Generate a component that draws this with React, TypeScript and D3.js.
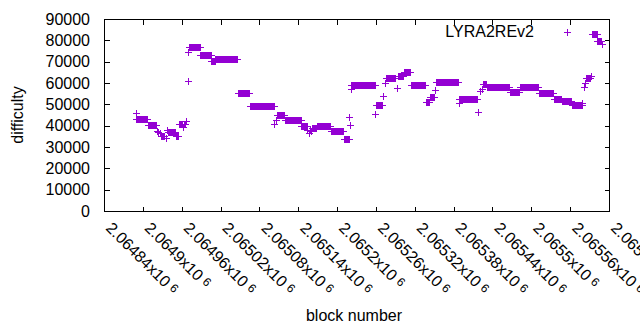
import * as d3 from "d3";

// runs of equal difficulty (first block, last block, value)
const firstBlock = [
  2064889, 2064890, 2064908, 2064922, 2064924, 2064926, 2064928, 2064935, 2064937, 2064939,
  2064951, 2064956, 2064962, 2064963, 2064966, 2064969, 2064970, 2064971, 2064989, 2065006,
  2065012, 2065047, 2065065, 2065103, 2065106, 2065107, 2065119, 2065145, 2065154, 2065156,
  2065158, 2065160, 2065161, 2065169, 2065190, 2065210, 2065219, 2065220, 2065221, 2065222,
  2065259, 2065260, 2065271, 2065274, 2065276, 2065292, 2065294, 2065303, 2065314, 2065337,
  2065343, 2065351, 2065353, 2065388, 2065389, 2065418, 2065421, 2065424, 2065426, 2065431,
  2065467, 2065482, 2065512, 2065535, 2065547, 2065563, 2065579, 2065581, 2065583, 2065584,
  2065592, 2065593, 2065602, 2065609,
];
const lastBlock = [
  2064889, 2064907, 2064921, 2064922, 2064924, 2064926, 2064933, 2064935, 2064937, 2064950,
  2064955, 2064961, 2064962, 2064965, 2064966, 2064969, 2064970, 2064988, 2065005, 2065011,
  2065046, 2065064, 2065102, 2065103, 2065106, 2065118, 2065144, 2065153, 2065154, 2065156,
  2065158, 2065160, 2065168, 2065189, 2065209, 2065218, 2065219, 2065220, 2065221, 2065258,
  2065259, 2065270, 2065271, 2065274, 2065290, 2065292, 2065302, 2065313, 2065336, 2065342,
  2065350, 2065351, 2065387, 2065388, 2065416, 2065418, 2065421, 2065424, 2065430, 2065466,
  2065481, 2065511, 2065534, 2065546, 2065562, 2065578, 2065579, 2065581, 2065583, 2065591,
  2065592, 2065601, 2065607, 2065609,
];
const difficulty = [
  46000, 43000, 40100, 37500, 37000, 36500, 35150, 34100, 38000, 36900,
  35200, 40800, 39400, 40800, 42200, 60800, 74300, 76750, 73100, 70300,
  71100, 55150, 49100, 40700, 42600, 44850, 42500, 39700, 38000, 36700,
  38000, 37500, 38900, 39700, 37650, 33750, 43900, 40150, 57400, 58950,
  45300, 49600, 53800, 60000, 62150, 57500, 63500, 65300, 59000, 51200,
  53300, 56500, 60350, 50500, 52350, 46550, 56200, 57200, 59500, 58200,
  55700, 57900, 55150, 52300, 51400, 49750, 50500, 58300, 60100, 62250,
  63400, 82950, 79700, 78200,
];

const xTickValues = [
  2064840, 2064900, 2064960, 2065020, 2065080, 2065140, 2065200,
  2065260, 2065320, 2065380, 2065440, 2065500, 2065560, 2065620,
];
const xTickLabels = [
  "2.06484", "2.0649", "2.06496", "2.06502", "2.06508", "2.06514", "2.0652",
  "2.06526", "2.06532", "2.06538", "2.06544", "2.0655", "2.06556", "2.0656",
];
const yTickValues = [0, 10000, 20000, 30000, 40000, 50000, 60000, 70000, 80000, 90000];

const seriesName = "LYRA2REv2";

export default function App() {
  const width = 640;
  const height = 330;
  const left = 104, right = 609, top = 19, bottom = 211;
  const color = "#9400d3";
  const font = "'Liberation Sans', Arial, sans-serif";

  const x = d3.scaleLinear().domain([2064840, 2065620]).range([left, right]);
  const y = d3.scaleLinear().domain([0, 90000]).range([bottom, top]);

  const points: { block: number; value: number }[] = [];
  firstBlock.forEach((b0, i) => {
    for (let b = b0; b <= lastBlock[i]; b++) points.push({ block: b, value: difficulty[i] });
  });

  // gnuplot style "+" markers
  const plus = (cx: number, cy: number, p: d3.Path) => {
    const px = Math.round(cx) + 0.5;
    const py = Math.round(cy) + 0.5;
    p.moveTo(px - 3.5, py);
    p.lineTo(px + 3.5, py);
    p.moveTo(px, py - 3.5);
    p.lineTo(px, py + 3.5);
  };
  const marks = d3.path();
  points.forEach((d) => plus(x(d.block), y(d.value), marks));
  const keyMark = d3.path();
  plus(567, 32, keyMark);

  const L = Math.round(left) + 0.5, R = Math.round(right) + 0.5;
  const T = Math.round(top) + 0.5, B = Math.round(bottom) + 0.5;

  return (
    <svg
      width={width}
      height={height}
      style={{ position: "absolute", left: 0, top: 0, background: "#fff" }}
      fontFamily={font}
      fontSize={16}
    >
      <rect width={width} height={height} fill="#fff" />
      <g stroke="#000" strokeWidth={1} shapeRendering="crispEdges">
        {yTickValues.map((v) => {
          const py = Math.round(y(v)) + 0.5;
          return (
            <g key={v}>
              <line x1={L} x2={L + 5} y1={py} y2={py} />
              <line x1={R} x2={R - 5} y1={py} y2={py} />
            </g>
          );
        })}
        {xTickValues.map((v) => {
          const px = Math.round(x(v)) + 0.5;
          return (
            <g key={v}>
              <line x1={px} x2={px} y1={B} y2={B - 5} />
              <line x1={px} x2={px} y1={T} y2={T + 5} />
            </g>
          );
        })}
        <rect x={L} y={T} width={R - L} height={B - T} fill="none" />
      </g>

      {yTickValues.map((v) => (
        <text key={v} x={90} y={y(v)} dy="0.36em" textAnchor="end" fill="#000">
          {v}
        </text>
      ))}

      {xTickValues.map((v, i) => {
        const px = x(v) + 1;
        const py = 229;
        return (
          <text key={v} x={px} y={py} transform={`rotate(45,${px},${py})`} fill="#000">
            {xTickLabels[i]}x10
            <tspan fontSize={12} dx={4} dy={-3}>6</tspan>
          </text>
        );
      })}

      <text x={23} y={115} transform="rotate(-90,23,115)" textAnchor="middle" fill="#000">
        difficulty
      </text>
      <text x={354} y={321} textAnchor="middle" fill="#000">
        block number
      </text>

      <text x={534} y={37} textAnchor="end" fill="#000">
        {seriesName}
      </text>
      <path d={keyMark.toString()} stroke={color} strokeWidth={1} fill="none" shapeRendering="crispEdges" />

      <path d={marks.toString()} stroke={color} strokeWidth={1} fill="none" shapeRendering="crispEdges" />
    </svg>
  );
}
